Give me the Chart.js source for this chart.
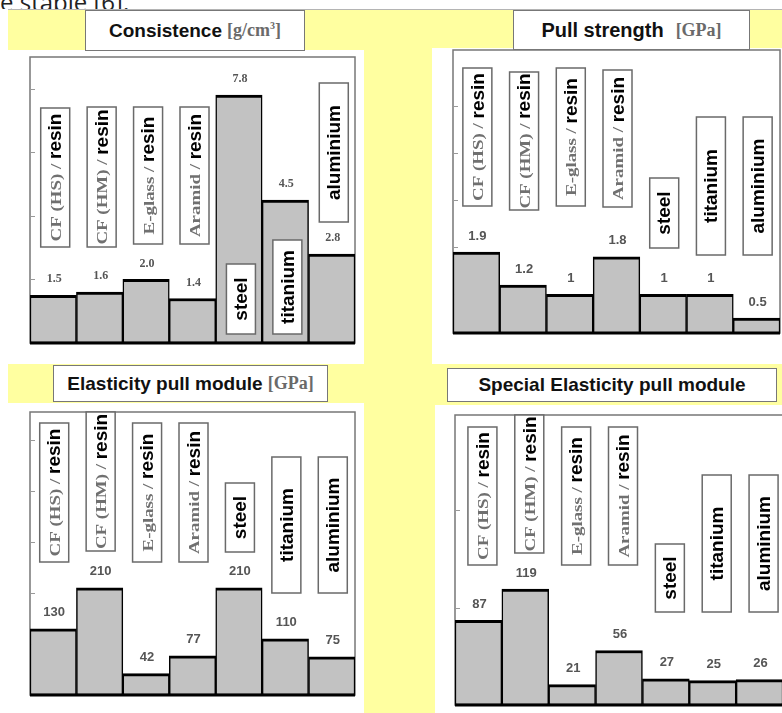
<!DOCTYPE html>
<html>
<head>
<meta charset="utf-8">
<script src="https://cdn.jsdelivr.net/npm/chart.js@4"></script>
<style>
  body { margin: 0; width: 782px; height: 713px; overflow: hidden; position: relative; background: #fff; font-family: "Liberation Sans", Arial, sans-serif; }
  #topline { position: absolute; left: 0; top: -15px; height: 24px; overflow: hidden; font-family: "Open Sans", sans-serif; font-size: 24px; color: #222; white-space: nowrap; }
  #bg { position: absolute; left: 8px; top: 9px; right: 0; bottom: 0; background: #ffffa0; border-top: 1px solid #b4b4b4; }
  .panel { position: absolute; background: #fff; }
  .panel canvas { position: absolute; left: 0; top: 0; }
  .title { position: absolute; background: #fff; border: 1.5px solid #777; box-sizing: border-box; display: flex; align-items: center; justify-content: center; white-space: nowrap; font-weight: bold; font-size: 19px; color: #111; }
  .unit { font-family: "Liberation Serif", serif; color: #6a6a6a; font-size: 18px; margin-left: 5px; }
</style>
</head>
<body>
<div id="topline">e stable [6].</div>
<div id="bg"></div>

<div class="panel" style="left:8px; top:50px; width:356px; height:314px;"><canvas id="consistenceChart" width="356" height="314"></canvas></div>
<div class="panel" style="left:432px; top:48px; width:350px; height:316px;"><canvas id="pullChart" width="350" height="316"></canvas></div>
<div class="panel" style="left:8px; top:403px; width:356px; height:310px;"><canvas id="elasticityChart" width="356" height="310"></canvas></div>
<div class="panel" style="left:435px; top:405px; width:352px; height:308px;"><canvas id="specialChart" width="352" height="308"></canvas></div>

<div class="title" style="left:85px; top:10px; width:220px; height:41px;">Consistence<span class="unit">[g/cm<sup style="font-size:10px">3</sup>]</span></div>
<div class="title" style="left:513px; top:10px; width:237px; height:40px; font-size:20px;">Pull strength <span class="unit" style="margin-left:12px">[GPa]</span></div>
<div class="title" style="left:53px; top:365px; width:275px; height:37px;">Elasticity pull module<span class="unit">[GPa]</span></div>
<div class="title" style="left:447px; top:368px; width:330px; height:34px;">Special Elasticity pull module</div>

<script>
// categories: grey serif part + black sans part of each boxed label
const materials = ['CF (HS) / resin', 'CF (HM) / resin', 'E-glass / resin', 'Aramid / resin', 'steel', 'titanium', 'aluminium'];
const labelSerif = ['CF (HS) /', 'CF (HM) /', 'E-glass /', 'Aramid /', '', '', ''];
const labelSans = ['resin', 'resin', 'resin', 'resin', 'steel', 'titanium', 'aluminium'];

// series values
const consistence = [1.5, 1.6, 2.0, 1.4, 7.8, 4.5, 2.8];
const consistenceText = ['1.5', '1.6', '2.0', '1.4', '7.8', '4.5', '2.8'];
const pullStrength = [1.9, 1.2, 1, 1.8, 1, 1, 0.5];
const elasticity = [130, 210, 42, 77, 210, 110, 75];
const specialElasticity = [87, 119, 21, 56, 27, 25, 26];

// y tick marks
const consistenceTicks = [2, 4, 6, 8];
const pullTicks = [1, 2, 3, 4, 5];
const elasticityTicks = [100, 200, 300, 400, 500];
const specialTicks = [100, 200];

// label boxes: [top, bottom] measured down from the plot frame top
const consistenceBoxes = [[51, 190], [50, 190], [50, 187], [50, 187], [207, 277], [183, 277], [26, 165]];
const pullBoxes = [[18, 156], [22, 160], [18, 156], [20, 157], [128, 198], [67, 205], [67, 205]];
const elasticityBoxes = [[11, 150], [0, 139], [11, 150], [11, 150], [71, 140], [45, 181], [45, 181]];
const specialBoxes = [[12, 150], [0, 138], [12, 150], [12, 150], [129, 197], [60, 197], [60, 197]];

const serifStretch = 1.35;

function drawBoxLabel(ctx, cx, top, bottom, serif, sans) {
    const w = 29;
    ctx.fillStyle = '#fff';
    ctx.fillRect(cx - w / 2, top, w, bottom - top);
    ctx.strokeStyle = '#6a6a6a';
    ctx.lineWidth = 1.5;
    ctx.strokeRect(cx - w / 2, top, w, bottom - top);

    ctx.save();
    ctx.translate(cx + 1, (top + bottom) / 2);
    ctx.rotate(-Math.PI / 2);
    ctx.textBaseline = 'middle';
    ctx.textAlign = 'left';
    const serifFont = 'bold 14px "Liberation Serif"';
    const sansFont = 'bold 19px "Liberation Sans"';
    ctx.font = serifFont;
    const serifW = serif ? ctx.measureText(serif + ' ').width * serifStretch : 0;
    ctx.font = sansFont;
    const sansW = ctx.measureText(sans).width;
    let x = -(serifW + sansW) / 2;
    if (serif) {
        ctx.save();
        ctx.translate(x, 1);
        ctx.scale(serifStretch, 1);
        ctx.font = serifFont;
        ctx.fillStyle = '#707070';
        ctx.fillText(serif, 0, 0);
        ctx.restore();
        x += serifW;
    }
    ctx.font = sansFont;
    ctx.fillStyle = '#000';
    ctx.fillText(sans, x, 0);
    ctx.restore();
}

// frame, inward tick marks, baseline, value labels and boxed category labels
const panelDecor = {
    id: 'panelDecor',
    beforeDatasetsDraw(chart, args, opts) {
        const ctx = chart.ctx;
        const area = chart.chartArea;
        const y = chart.scales.y;
        ctx.save();
        ctx.strokeStyle = '#777';
        ctx.lineWidth = 1.5;
        ctx.strokeRect(area.left, area.top, area.right - area.left, area.bottom - area.top);
        ctx.strokeStyle = '#999';
        ctx.lineWidth = 1;
        opts.ticks.forEach(v => {
            const py = Math.round(y.getPixelForValue(v)) + 0.5;
            ctx.beginPath();
            ctx.moveTo(area.left, py);
            ctx.lineTo(area.left + 5, py);
            ctx.stroke();
        });
        ctx.restore();
    },
    afterDatasetsDraw(chart, args, opts) {
        const ctx = chart.ctx;
        const area = chart.chartArea;
        const meta = chart.getDatasetMeta(0);
        ctx.save();
        ctx.strokeStyle = '#000';
        ctx.lineWidth = 3;
        ctx.beginPath();
        ctx.moveTo(area.left, area.bottom);
        ctx.lineTo(area.right, area.bottom);
        ctx.stroke();

        meta.data.forEach((bar, i) => {
            ctx.font = opts.valueFont;
            ctx.fillStyle = '#555';
            ctx.textAlign = 'center';
            ctx.textBaseline = 'middle';
            ctx.fillText(opts.valueText[i], bar.x + 1, bar.y - 16);

            const [t, b] = opts.boxes[i];
            drawBoxLabel(ctx, bar.x + opts.boxDx, area.top + t, area.top + b, labelSerif[i], labelSans[i]);
        });
        ctx.restore();
    }
};

function makeChart(canvasId, values, valueText, ticks, yMin, yMax, padding, boxes, boxDx, valueFont) {
    const ctx = document.getElementById(canvasId).getContext('2d');
    return new Chart(ctx, {
        type: 'bar',
        data: {
            labels: materials,
            datasets: [{
                data: values,
                backgroundColor: '#c2c2c2',
                borderColor: '#000',
                borderWidth: { top: 3, right: 1.5, bottom: 1.5, left: 1.5 },
                borderSkipped: false,
                categoryPercentage: 1,
                barPercentage: 1
            }]
        },
        options: {
            responsive: false,
            animation: false,
            layout: { padding: padding },
            plugins: {
                legend: { display: false },
                tooltip: { enabled: false },
                panelDecor: { ticks: ticks, valueText: valueText, boxes: boxes, boxDx: boxDx, valueFont: valueFont }
            },
            scales: {
                x: { display: false },
                y: { display: false, min: yMin, max: yMax }
            }
        },
        plugins: [panelDecor]
    });
}

const serifValues = 'bold 12px "Liberation Serif"';
const sansValues = 'bold 13px "Liberation Sans"';

makeChart('consistenceChart', consistence, consistenceText, consistenceTicks, 0, 9,
    { left: 22, right: 9, top: 7, bottom: 21 }, consistenceBoxes, 2, serifValues);
makeChart('pullChart', pullStrength, pullStrength.map(String), pullTicks, 0.18, 6.2,
    { left: 21, right: 2, top: 2, bottom: 31 }, pullBoxes, 1, sansValues);
makeChart('elasticityChart', elasticity, elasticity.map(String), elasticityTicks, 0, 555,
    { left: 22, right: 9, top: 9, bottom: 18 }, elasticityBoxes, 1, sansValues);
makeChart('specialChart', specialElasticity, specialElasticity.map(String), specialTicks, 0, 298,
    { left: 20, right: 4, top: 10, bottom: 8 }, specialBoxes, 4, sansValues);
</script>
</body>
</html>
